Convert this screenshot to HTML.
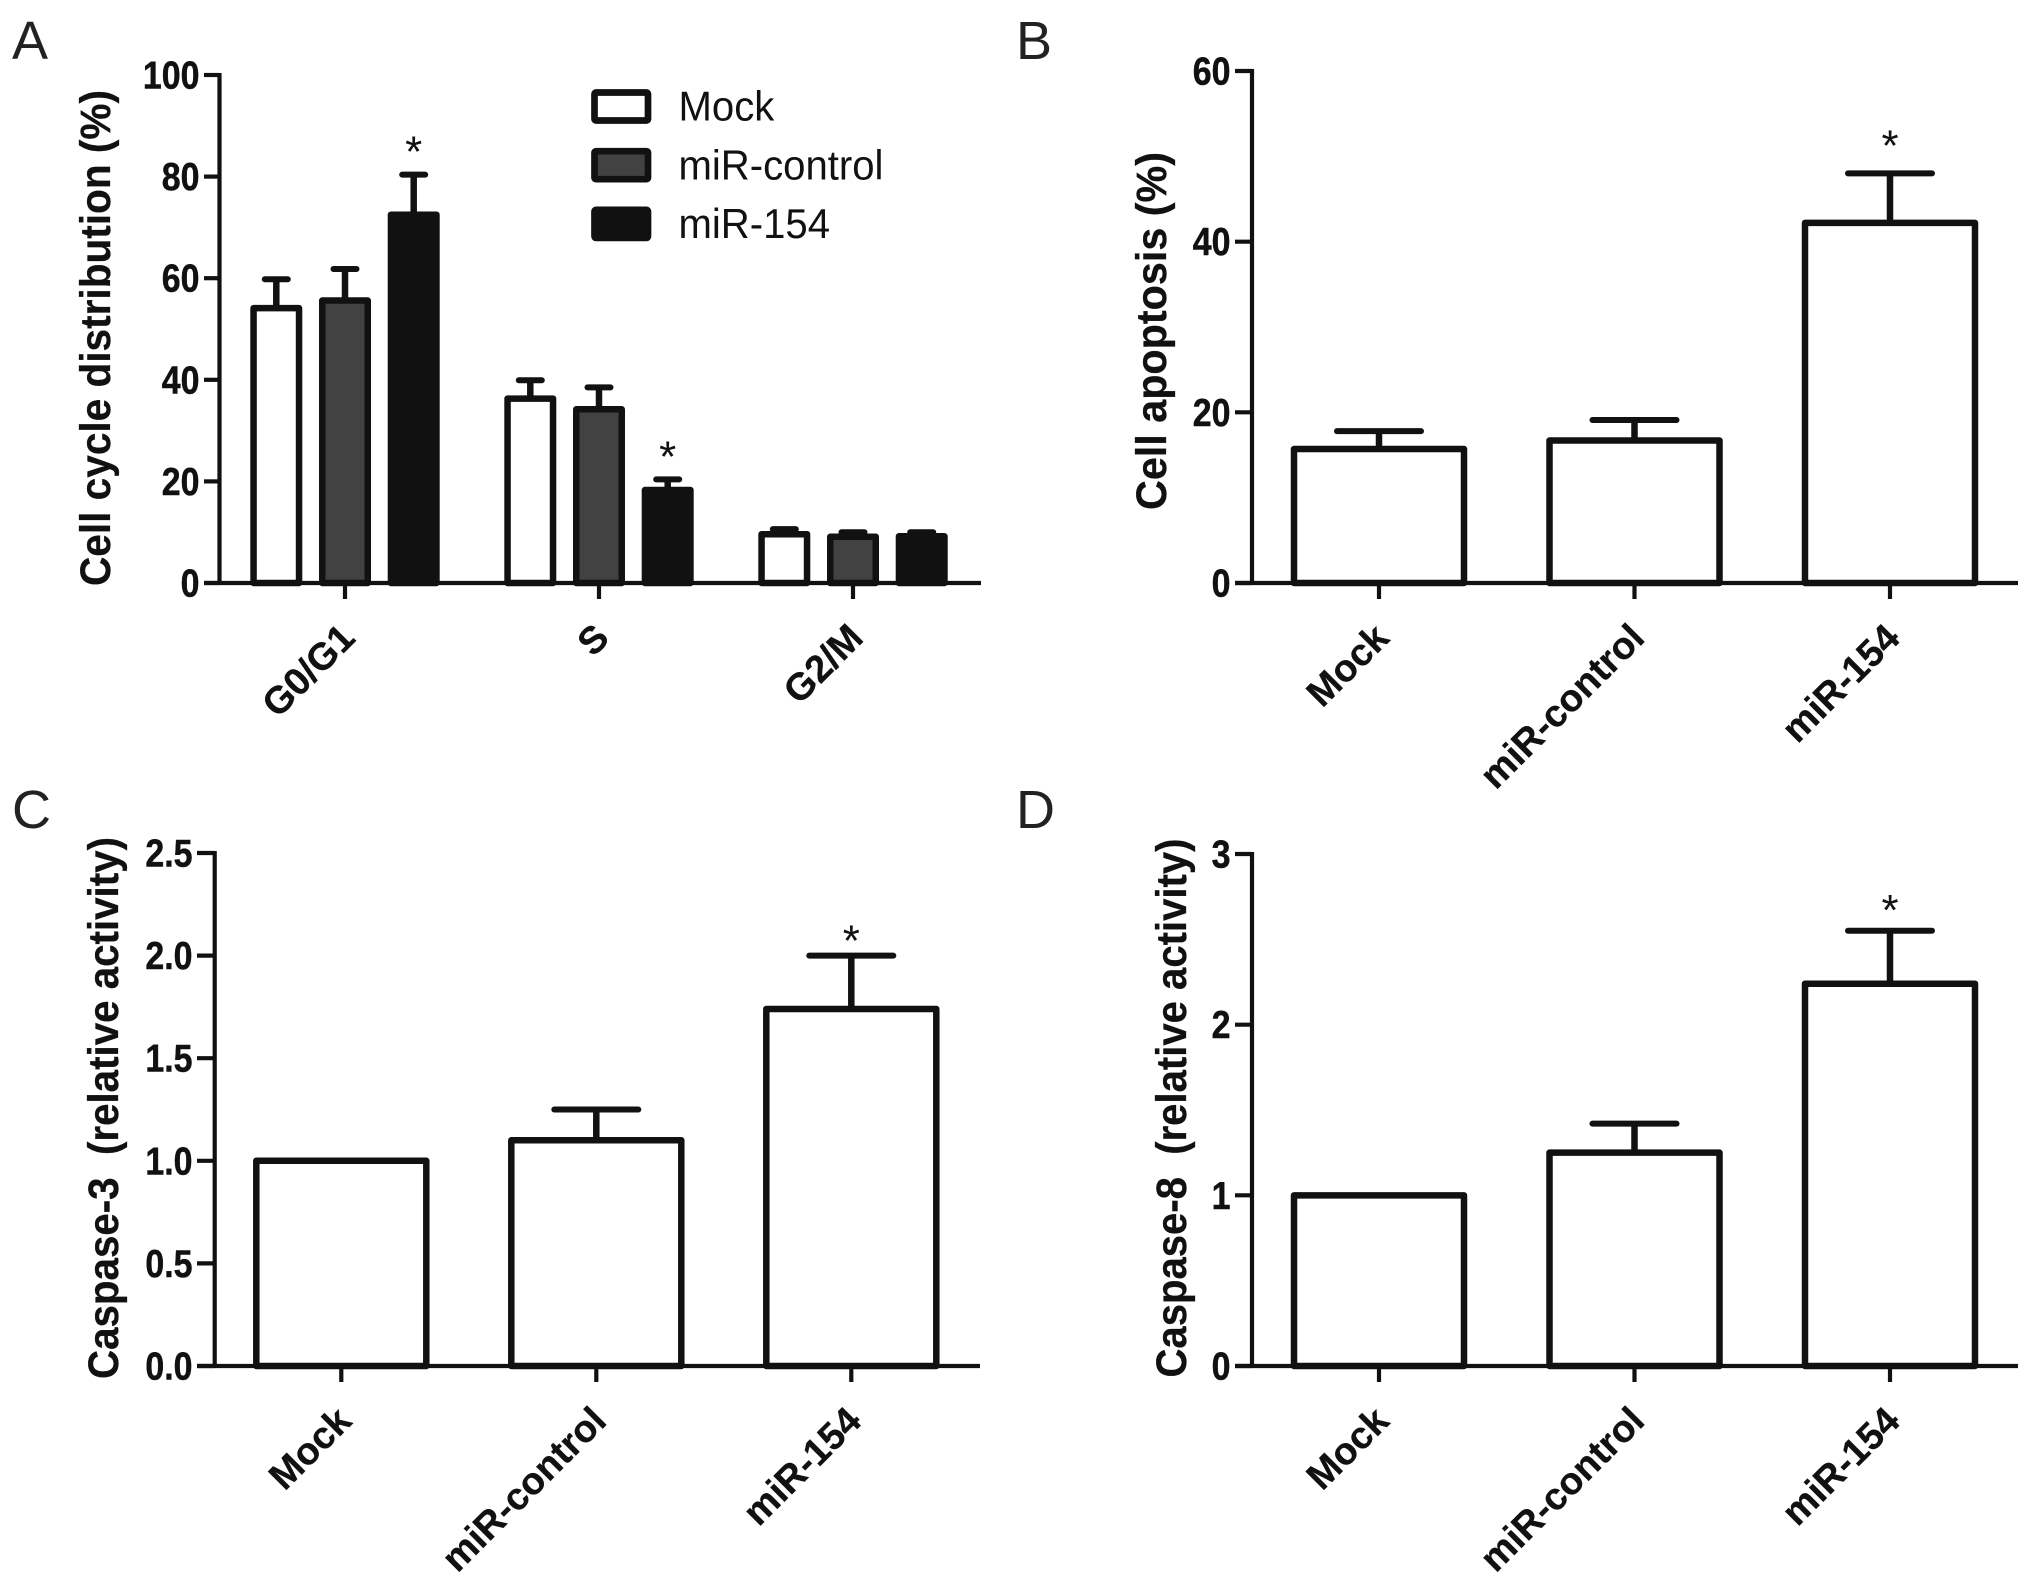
<!DOCTYPE html>
<html lang="en">
<head>
<meta charset="utf-8">
<title>Cell cycle, apoptosis and caspase activity</title>
<style>
html,body{margin:0;padding:0;background:#fff;}
svg{display:block;}
text{font-family:"Liberation Sans",Arial,sans-serif;fill:#111;white-space:pre;}
.tick-label{font-weight:700;font-size:39px;text-anchor:end;stroke:#111;stroke-width:0.5px;}
.cat-label{font-weight:700;font-size:38px;text-anchor:end;stroke:#111;stroke-width:0.3px;}
.axis-title{font-weight:700;font-size:42.5px;text-anchor:middle;stroke:#111;stroke-width:0.3px;}
.panel-letter{font-size:54px;fill:#222;}
.legend-label{font-size:42px;}
.star{font-size:44px;text-anchor:middle;}
</style>
</head>
<body>
<svg id="figure" xmlns="http://www.w3.org/2000/svg" width="2031" height="1580" viewBox="0 0 2031 1580">
  <rect x="0" y="0" width="2031" height="1580" fill="#ffffff"/>
  <text class="panel-letter" x="12" y="59">A</text>
  <text class="panel-letter" x="1016" y="59">B</text>
  <text class="panel-letter" x="12" y="828">C</text>
  <text class="panel-letter" x="1016" y="828">D</text>
</svg>
<script>
// ---- Panel A data ----
var cycleCategories = ['G0/G1', 'S', 'G2/M'];
var cycleSeriesNames = ['Mock', 'miR-control', 'miR-154'];
var cycleMock = [54.1, 36.3, 9.6];
var cycleMockErr = [59.8, 39.9, 10.6];
var cycleControl = [55.6, 34.2, 9.1];
var cycleControlErr = [61.8, 38.5, 10.0];
var cycleMir = [72.5, 18.3, 9.2];
var cycleMirErr = [80.4, 20.4, 10.0];
var cycleStars = [false, false, true, false, false, true, false, false, false];
var cycleTicks = ['0', '20', '40', '60', '80', '100'];
// ---- Panel B data ----
var groupCategories = ['Mock', 'miR-control', 'miR-154'];
var apoptosisValues = [15.7, 16.7, 42.2];
var apoptosisErr = [17.8, 19.1, 48.0];
var apoptosisTicks = ['0', '20', '40', '60'];
// ---- Panel C data ----
var casp3Values = [1.0, 1.1, 1.74];
var casp3Err = [1.0, 1.25, 2.0];
var casp3Ticks = ['0.0', '0.5', '1.0', '1.5', '2.0', '2.5'];
// ---- Panel D data ----
var casp8Values = [1.0, 1.25, 2.24];
var casp8Err = [1.0, 1.42, 2.55];
var casp8Ticks = ['0', '1', '2', '3'];
var singleStars = [false, false, true];

var NS = 'http://www.w3.org/2000/svg';
var INK = '#111111';
var svg = document.getElementById('figure');

function make(tag, attrs, parent) {
  var el = document.createElementNS(NS, tag);
  for (var k in attrs) { el.setAttribute(k, attrs[k]); }
  parent.appendChild(el);
  return el;
}
function linearY(panel) {
  return function (v) { return panel.zeroY - (v / panel.yMax) * (panel.zeroY - panel.topY); };
}
function line(parent, x1, y1, x2, y2, w, cap) {
  return make('line', {x1: x1, y1: y1, x2: x2, y2: y2, stroke: INK, 'stroke-width': w, 'stroke-linecap': cap || 'butt'}, parent);
}

function drawFrame(panel, ticks, categories, g) {
  var y = linearY(panel);
  var el;
  el = line(g, panel.axisX, panel.topY - 2, panel.axisX, panel.zeroY + 2, 4.2);
  
  
  el = line(g, panel.tickLeft, panel.zeroY, panel.endX, panel.zeroY, 4.2);
  
  
  ticks.forEach(function (t) {
    var ty = y(parseFloat(t));
    var m = line(g, panel.tickLeft, ty, panel.axisX, ty, 4.2);
    
    
    var tx = make('text', {'class': 'tick-label', transform: 'translate(' + (panel.tickLeft - 4.5) + ',' + (ty + 13.5) + ') scale(0.87,1)'}, g);
    tx.textContent = t;
    
    
  });
  categories.forEach(function (c, i) {
    var cx = panel.firstX + i * panel.stepX;
    var m = line(g, cx, panel.zeroY, cx, panel.zeroY + 16, 4.2);
    
    
    var tx = make('text', {'class': 'cat-label', transform: 'translate(' + (cx + 12) + ',' + (panel.zeroY + 57) + ') rotate(-45)'}, g);
    tx.textContent = c;
    
    
  });
  var title = make('text', {'class': 'axis-title', textLength: panel.titleLen, lengthAdjust: 'spacingAndGlyphs',
    transform: 'translate(' + panel.titleX + ',' + panel.titleY + ') rotate(-90)'}, g);
  title.textContent = panel.title;
  
  
}

function drawBar(panel, g, cx, value, err, fill, star, starGap, capW, barW, sw) {
  var y = linearY(panel);
  var top = y(value), errTop = y(err);
  var m;
  if (err > value) {
    m = line(g, cx, top, cx, errTop, 6.5);
    
    
    m = line(g, cx - capW / 2 + 3, errTop, cx + capW / 2 - 3, errTop, 6, 'round');
    
    
  }
  m = make('rect', {x: cx - barW / 2, y: top, width: barW, height: panel.zeroY - top, fill: fill, stroke: INK, 'stroke-width': sw, 'stroke-linejoin': 'round'}, g);
  
  
  if (star) {
    m = make('text', {'class': 'star', x: cx, y: errTop - starGap + 22}, g);
    m.textContent = '*';
    
    
  }
}

function drawSimplePanel(panel, name, values, errs, ticks) {
  var g = make('g', {}, svg);
  
  
  values.forEach(function (v, i) {
    drawBar(panel, g, panel.firstX + i * panel.stepX, v, errs[i], '#ffffff', singleStars[i], panel.starGap, 90, 170, 6.5);
  });
  drawFrame(panel, ticks, groupCategories, g);
}

// Panel A: grouped bars
var panelA = {axisX: 219.5, tickLeft: 204, endX: 981, topY: 75, zeroY: 583, yMax: 100, firstX: 345, stepX: 254,
  title: 'Cell cycle distribution (%)', titleX: 110, titleY: 338, titleLen: 496};
(function () {
  var g = make('g', {}, svg);
  
  
  var series = [cycleMock, cycleControl, cycleMir];
  var errs = [cycleMockErr, cycleControlErr, cycleMirErr];
  var fills = ['#ffffff', '#424242', '#111111'];
  cycleCategories.forEach(function (c, i) {
    series.forEach(function (vals, s) {
      var cx = panelA.firstX + i * panelA.stepX + (s - 1) * 68.7;
      drawBar(panelA, g, cx, vals[i], errs[s][i], fills[s], cycleStars[i * 3 + s], 30, 29, 45.5, 6.5);
    });
  });
  drawFrame(panelA, cycleTicks, cycleCategories, g);
  // legend
  var lg = make('g', {}, svg);
  
  
  cycleSeriesNames.forEach(function (n, s) {
    var top = 92.5 + s * 58.7;
    var box = make('rect', {x: 594.5, y: top, width: 53.5, height: 28, rx: 1.5, fill: fills[s], stroke: INK, 'stroke-width': 6.7, 'stroke-linejoin': 'round'}, lg);
    
    
    var t = make('text', {'class': 'legend-label', transform: 'translate(678.5,' + (120.7 + s * 58.7) + ') scale(0.955,1)'}, lg);
    t.textContent = n;
    
    
  });
})();

// Panels B, C, D
drawSimplePanel({axisX: 1252, tickLeft: 1235, endX: 2018, topY: 71, zeroY: 583, yMax: 60, firstX: 1379, stepX: 255.5, starGap: 35,
  title: 'Cell apoptosis (%)', titleX: 1166, titleY: 331, titleLen: 358}, 'panel-b-apoptosis', apoptosisValues, apoptosisErr, apoptosisTicks);
drawSimplePanel({axisX: 214.7, tickLeft: 197, endX: 980, topY: 853, zeroY: 1366, yMax: 2.5, firstX: 341.3, stepX: 255, starGap: 22,
  title: 'Caspase-3  (relative activity)', titleX: 118, titleY: 1108, titleLen: 542}, 'panel-c-caspase-3', casp3Values, casp3Err, casp3Ticks);
drawSimplePanel({axisX: 1252, tickLeft: 1235, endX: 2018, topY: 854, zeroY: 1366, yMax: 3, firstX: 1379, stepX: 255.5, starGap: 28,
  title: 'Caspase-8  (relative activity)', titleX: 1186, titleY: 1108, titleLen: 539}, 'panel-d-caspase-8', casp8Values, casp8Err, casp8Ticks);
</script>
</body>
</html>
